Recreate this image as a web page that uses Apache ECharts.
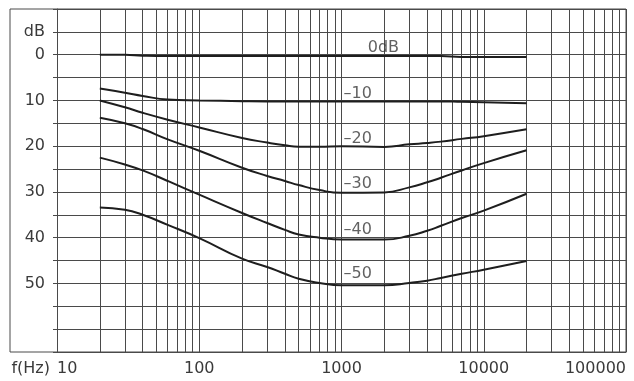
<!DOCTYPE html>
<html>
<head>
<meta charset="utf-8">
<script src="https://cdn.jsdelivr.net/npm/echarts@6/dist/echarts.min.js"></script>
<style>
html,body{margin:0;padding:0;background:#fff;}
#chart{width:634px;height:381px;}
</style>
</head>
<body>
<div id="chart"></div>
<script>
// Frequencies (Hz) at which the curves were read
const freqs = [20, 30, 40, 60, 100, 200, 300, 400, 500, 700, 1000, 2000, 3000, 4000, 5000, 7000, 10000, 20000];
// Attenuation (dB, plotted downward) for each curve
const curve0  = [0.0, 0.0, 0.2, 0.3, 0.3, 0.3, 0.3, 0.3, 0.3, 0.3, 0.3, 0.3, 0.3, 0.3, 0.3, 0.5, 0.5, 0.5];
const curve10 = [7.4, 8.3, 9.0, 9.8, 10.0, 10.15, 10.2, 10.2, 10.2, 10.2, 10.2, 10.2, 10.2, 10.2, 10.2, 10.3, 10.4, 10.6];
const curve20 = [10.0, 11.5, 12.7, 14.2, 15.9, 18.2, 19.2, 19.8, 20.1, 20.1, 20.0, 20.15, 19.6, 19.3, 19.0, 18.4, 17.8, 16.3];
const curve30 = [13.8, 15.0, 16.25, 18.5, 21.0, 24.7, 26.5, 27.6, 28.5, 29.6, 30.2, 30.1, 29.0, 27.9, 26.9, 25.3, 23.7, 20.9];
const curve40 = [22.5, 24.0, 25.3, 27.6, 30.6, 34.6, 36.8, 38.3, 39.3, 40.0, 40.4, 40.4, 39.6, 38.5, 37.4, 35.7, 34.1, 30.4];
const curve50 = [33.4, 33.9, 35.0, 37.2, 40.1, 44.6, 46.4, 47.9, 49.0, 49.9, 50.4, 50.4, 49.9, 49.4, 48.8, 47.9, 47.0, 45.1];
const curves = [curve0, curve10, curve20, curve30, curve40, curve50];

// Curve labels
const labelTexts = ['0dB', '–10', '–20', '–30', '–40', '–50'];
const labelFreqs = [1480, 1000, 1000, 1000, 1000, 1000];
const labelDb    = [-1.4, 8.6, 18.4, 28.2, 38.3, 48.0];

// Axis settings
const decades = [10, 100, 1000, 10000];
const minorMultipliers = [2, 3, 4, 5, 6, 7, 8, 9];
const yLabelValues = [0, 10, 20, 30, 40, 50];

const gridColor = '#4a4a4a';
const textColor = '#3a3a3a';
const font = '"DejaVu Sans", sans-serif';

const minorLines = [];
decades.forEach(d => minorMultipliers.forEach(m => minorLines.push({ xAxis: d * m })));

const series = curves.map((c, k) => ({
  type: 'line',
  xAxisIndex: 0, yAxisIndex: 0,
  data: freqs.map((f, i) => [f, c[i]]),
  showSymbol: false,
  symbol: 'none',
  smooth: 0.5,
  silent: true,
  lineStyle: { color: '#1e1e1e', width: 2 },
  z: 5,
  markLine: k === 0 ? {
    silent: true,
    symbol: ['none', 'none'],
    label: { show: false },
    lineStyle: { color: gridColor, width: 1, type: 'solid' },
    data: minorLines,
    z: 1
  } : undefined
}));

series.push({
  type: 'scatter',
  xAxisIndex: 0, yAxisIndex: 0,
  symbolSize: 0,
  silent: true,
  data: labelTexts.map((t, i) => ({ value: [labelFreqs[i], labelDb[i]], name: t })),
  label: {
    show: true,
    position: 'right',
    distance: 2,
    formatter: p => p.name,
    color: textColor,
    fontFamily: font,
    fontSize: 16
  },
  z: 6
});

const chart = echarts.init(document.getElementById('chart'), null, { renderer: 'canvas' });
chart.setOption({
  animation: false,
  backgroundColor: '#ffffff',
  grid: [
    { left: 57, right: 8, top: 9, bottom: 29, containLabel: false },
    { left: 10, right: 8, top: 9, bottom: 29, show: true, borderColor: gridColor, borderWidth: 1, backgroundColor: 'transparent' }
  ],
  xAxis: [
    {
      gridIndex: 0,
      type: 'log',
      logBase: 10,
      min: 10,
      max: 100000,
      name: 'f(Hz)',
      nameLocation: 'start',
      nameGap: 7,
      nameTextStyle: { color: textColor, fontFamily: font, fontSize: 16, verticalAlign: 'top', padding: [9, 0, 0, 0] },
      axisLine: { show: true, onZero: false, lineStyle: { color: gridColor, width: 1 } },
      axisTick: { show: false },
      splitLine: { show: true, lineStyle: { color: gridColor, width: 1 } },
      axisLabel: {
        color: textColor, fontFamily: font, fontSize: 16, margin: 9,
        alignMinLabel: 'left', alignMaxLabel: 'right',
        formatter: v => String(Math.round(v))
      }
    },
    { gridIndex: 1, type: 'value', show: false }
  ],
  yAxis: [
    {
      gridIndex: 0,
      type: 'value',
      inverse: true,
      min: -10,
      max: 65,
      interval: 5,
      axisLine: { show: true, onZero: false, lineStyle: { color: gridColor, width: 1 } },
      axisTick: { show: true, length: 4, lineStyle: { color: gridColor, width: 1 } },
      splitLine: { show: true, lineStyle: { color: gridColor, width: 1 } },
      axisLabel: {
        color: textColor, fontFamily: font, fontSize: 16, margin: 12,
        formatter: v => v === -5 ? 'dB' : (yLabelValues.indexOf(v) >= 0 ? String(v) : '')
      }
    },
    { gridIndex: 1, type: 'value', show: false }
  ],
  series: series
});
</script>
</body>
</html>
